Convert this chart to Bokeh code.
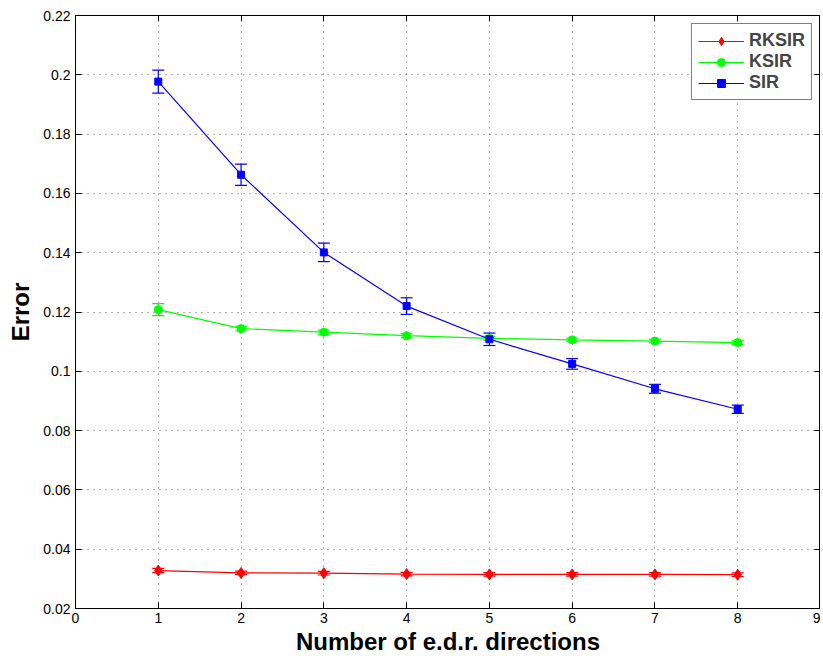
from bokeh.plotting import figure
from bokeh.models import (ColumnDataSource, Whisker, TeeHead, LinearAxis, FixedTicker,
                          CustomJSTickFormatter, Range1d)
from bokeh.embed import file_html
from bokeh.resources import INLINE

x_vals = [1, 2, 3, 4, 5, 6, 7, 8]
rksir = [0.0328, 0.0320, 0.0319, 0.0316, 0.0315, 0.0315, 0.0315, 0.0314]
rksir_err = [0.0007, 0.0006, 0.0006, 0.0006, 0.0006, 0.0006, 0.0006, 0.0006]
ksir = [0.1208, 0.1144, 0.1132, 0.1120, 0.1111, 0.1106, 0.1102, 0.1097]
ksir_err = [0.0020, 0.0008, 0.0007, 0.0007, 0.0007, 0.0006, 0.0006, 0.0006]
sir = [0.1977, 0.1663, 0.1401, 0.1220, 0.1108, 0.1025, 0.0941, 0.0872]
sir_err = [0.0039, 0.0036, 0.0031, 0.0028, 0.0021, 0.0018, 0.0015, 0.0014]

x_ticks = [0, 1, 2, 3, 4, 5, 6, 7, 8, 9]
y_ticks = [0.02, 0.04, 0.06, 0.08, 0.10, 0.12, 0.14, 0.16, 0.18, 0.20, 0.22]

FONT = "Liberation Sans"

p = figure(frame_width=745, frame_height=593, output_backend="svg", toolbar_location=None,
           x_range=Range1d(0, 9), y_range=Range1d(0.02, 0.22),
           min_border_left=75, min_border_top=15, min_border_right=0, min_border_bottom=4)
p.background_fill_color = "white"
p.outline_line_color = "black"
p.outline_line_width = 1

fmt = CustomJSTickFormatter(code="return parseFloat(tick.toFixed(2)).toString();")
blank = CustomJSTickFormatter(code="return '';")

for ax in (p.xaxis[0], p.yaxis[0]):
    ax.major_tick_in = 6
    ax.major_tick_out = 0
    ax.minor_tick_line_color = None
    ax.axis_line_color = "black"
    ax.major_tick_line_color = "black"
    ax.major_label_text_font = FONT
    ax.major_label_text_font_size = "14px"
    ax.major_label_text_color = "black"
    ax.axis_label_text_font = FONT
    ax.axis_label_text_font_style = "bold"
    ax.axis_label_text_font_size = "24px"
    ax.axis_label_text_color = "black"
    ax.formatter = fmt
p.xaxis[0].ticker = FixedTicker(ticks=x_ticks)
p.yaxis[0].ticker = FixedTicker(ticks=y_ticks)
p.xaxis[0].axis_label = "Number of e.d.r. directions"
p.yaxis[0].axis_label = "Error"
p.xaxis[0].major_label_standoff = 4
p.xaxis[0].axis_label_standoff = 2
p.yaxis[0].major_label_standoff = 5
p.yaxis[0].axis_label_standoff = 6

for loc, tk in (("above", x_ticks), ("right", y_ticks)):
    ax = LinearAxis(ticker=FixedTicker(ticks=tk), major_tick_in=6, major_tick_out=0,
                    minor_tick_line_color=None, formatter=blank,
                    major_label_standoff=0, axis_line_color="black")
    p.add_layout(ax, loc)

p.xgrid.ticker = FixedTicker(ticks=x_ticks)
p.ygrid.ticker = FixedTicker(ticks=y_ticks)
for g in (p.xgrid[0], p.ygrid[0]):
    g.grid_line_color = "black"
    g.grid_line_alpha = 0.6
    g.grid_line_dash = "1 5"
    g.grid_line_width = 1

series = [
    ("RKSIR", rksir, rksir_err, "#ff0000", "diamond", 11),
    ("KSIR", ksir, ksir_err, "#00ff00", "circle", 8),
    ("SIR", sir, sir_err, "#0000ff", "square", 7),
]
for name, ys, errs, col, marker, size in series:
    src = ColumnDataSource(dict(x=x_vals, y=ys,
                                upper=[a + b for a, b in zip(ys, errs)],
                                lower=[a - b for a, b in zip(ys, errs)]))
    p.line("x", "y", source=src, line_color=col, line_width=1.2, legend_label=name)
    w = Whisker(source=src, base="x", upper="upper", lower="lower", line_color=col,
                line_width=1.2,
                upper_head=TeeHead(size=12, line_color=col, line_width=1.2),
                lower_head=TeeHead(size=12, line_color=col, line_width=1.2))
    p.add_layout(w)
    p.scatter("x", "y", source=src, marker=marker, size=size, fill_color=col,
              line_color=col, legend_label=name)

lg = p.legend[0]
lg.location = "top_right"
lg.margin = 8
lg.padding = 6
lg.spacing = 0
lg.glyph_width = 46
lg.glyph_height = 20
lg.label_height = 20
lg.label_standoff = 5
lg.label_text_font = FONT
lg.label_text_font_style = "bold"
lg.label_text_font_size = "18px"
lg.border_line_color = "black"
lg.border_line_width = 1
lg.background_fill_color = "white"
lg.background_fill_alpha = 1

open("out.html", "w").write(file_html(p, INLINE))
